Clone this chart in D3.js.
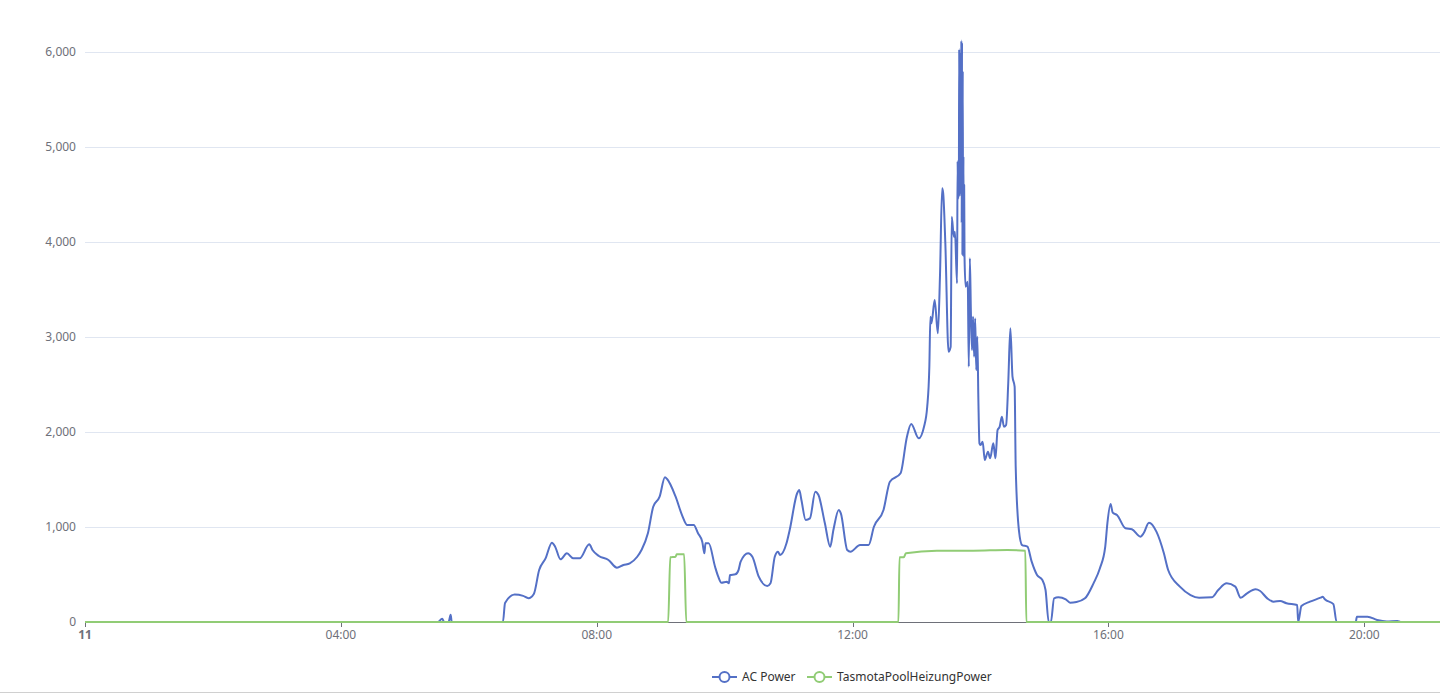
<!DOCTYPE html>
<html>
<head>
<meta charset="utf-8">
<script src="https://cdn.jsdelivr.net/npm/d3@7"></script>
<style>
  html, body { margin: 0; padding: 0; background: #fff; }
  svg { display: block; font-family: "Noto Sans", "Open Sans", sans-serif; }
</style>
</head>
<body>
<svg id="chart" width="1440" height="697"></svg>
<script>
// ---- data ----
const day = "2024-06-11";
const seriesNames = ["AC Power", "TasmotaPoolHeizungPower"];
const seriesColors = ["#5470c6", "#91cc75"];

const acTimes = [
  "00:00","05:31","05:35","05:37","05:41","05:43","05:44","06:32","06:34","06:43","06:51","06:56",
  "07:01","07:06","07:12","07:18","07:21","07:26","07:32","07:38","07:44","07:53","07:56","08:02",
  "08:11","08:19","08:25","08:31","08:38","08:42","08:48","08:53","08:59","09:04","09:06","09:14",
  "09:20","09:25","09:31","09:35","09:39","09:41","09:42","09:45","09:51","09:54","09:57","10:02",
  "10:04","10:05","10:10","10:13","10:15","10:22","10:26","10:32","10:40","10:43","10:47","10:50",
  "10:52","10:58","11:01","11:08","11:10","11:12","11:16","11:20","11:25","11:28","11:34","11:39",
  "11:42","11:47","11:49","11:55","11:58","12:07","12:15","12:20","12:29","12:35","12:45","12:51",
  "12:55","13:02","13:07","13:10","13:12","13:13","13:14","13:17","13:20","13:22","13:24","13:25",
  "13:27","13:30","13:32","13:33","13:35","13:36","13:38",
  "13:38:30","13:39:00","13:39:20","13:39:40","13:40:00","13:40:20","13:40:40","13:41:00","13:41:20",
  "13:41:40","13:42:00","13:42:20","13:42:40","13:43:00","13:43:20","13:43:40","13:44:00","13:44:20",
  "13:44:40","13:45:00",
  "13:46","13:48","13:49","13:50","13:51","13:52","13:53","13:54","13:55","13:56",
  "13:57","13:58","13:59","14:00","14:02","14:04","14:07","14:09","14:12","14:14","14:16","14:18",
  "14:20","14:22","14:24","14:26","14:28","14:30","14:32","14:33","14:36","14:39","14:44","14:48",
  "14:53","14:58","15:01","15:04","15:06","15:09","15:13","15:20","15:24","15:30","15:38","15:46",
  "15:52","15:57","15:59","16:02","16:04","16:08","16:16","16:22","16:30","16:33","16:38","16:45",
  "16:52","16:56","17:07","17:17","17:25","17:37","17:43","17:51","17:59","18:04","18:10","18:18",
  "18:22","18:29","18:35","18:41","18:47","18:57","18:58","19:01","19:09","19:19","19:21","19:23",
  "19:31","19:34","19:52","19:53","20:03","20:12","20:21","20:31","20:34","21:11"
];
const acValues = [
  0,0,35,0,0,77,0,0,200,290,275,250,
  295,547,670,835,793,660,723,670,670,818,758,695,
  653,572,600,618,687,758,934,1213,1319,1523,1505,1319,
  1126,1021,1021,934,845,723,828,828,582,477,414,424,
  407,495,502,547,635,723,687,477,379,407,687,740,
  705,828,968,1355,1389,1284,1074,1091,1372,1337,1039,793,
  968,1179,1144,758,740,810,810,1003,1179,1477,1565,1951,
  2084,1933,2056,2266,2687,3213,3144,3389,3039,3652,4565,4512,
  3986,2845,2898,4266,4056,4109,3565,
  4850,4450,4800,4500,6030,4480,6000,4600,5950,
  4500,6120,4200,6100,3860,5800,3850,4900,3860,
  4600,3850,
  3530,3582,2687,3828,3249,2863,3213,2793,3196,2652,
  3003,2337,1880,1863,1898,1705,1793,1723,1881,1723,2021,2056,
  2161,2056,2074,2513,3091,2582,2477,1635,968,810,793,635,
  495,442,337,0,0,249,260,239,203,210,249,407,
  565,793,1039,1242,1151,1126,986,976,898,934,1045,951,
  723,547,372,284,256,260,337,407,372,256,302,344,
  329,249,214,221,197,179,0,168,214,256,266,239,
  189,0,0,56,56,21,5,10,0,0
];

const poolTimes = ["00:00","09:07","09:09","09:14","09:15","09:22","09:24","12:43","12:44","12:48","12:50","13:19","13:53","14:25","14:42","14:43","21:11"];
const poolValues = [0,0,681,687,712,712,0,0,681,681,723,750,750,758,750,0,0];

const yTicks = [0, 1000, 2000, 3000, 4000, 5000, 6000];
const xTickTimes = ["00:00","04:00","08:00","12:00","16:00","20:00"];
const xTickLabels = ["11","04:00","08:00","12:00","16:00","20:00"];
const xDomainEnd = "21:11";

// ---- layout ----
const svg = d3.select("#chart");
const W = 1440, H = 697;
const margin = { left: 85, right: 0, top: 52, bottom: 75 };
const plotBottom = 622;
const parseHM = d3.timeParse("%Y-%m-%d %H:%M");
const parseHMS = d3.timeParse("%Y-%m-%d %H:%M:%S");
const toDate = t => (t.length > 5 ? parseHMS : parseHM)(day + " " + t);

const x = d3.scaleTime()
  .domain([toDate("00:00"), toDate(xDomainEnd)])
  .range([margin.left, W - margin.right]);
const y = d3.scaleLinear().domain([0, 6000]).range([plotBottom, margin.top]);

// grid
svg.append("g")
  .selectAll("line")
  .data(yTicks.filter(v => v > 0))
  .join("line")
  .attr("x1", margin.left).attr("x2", W - margin.right)
  .attr("y1", d => y(d) + 0.5).attr("y2", d => y(d) + 0.5)
  .attr("stroke", "#E0E6F1").attr("stroke-width", 1);

// y labels
const fmt = d3.format(",");
svg.append("g")
  .selectAll("text")
  .data(yTicks)
  .join("text")
  .attr("x", 76).attr("y", d => y(d))
  .attr("dy", "0.35em")
  .attr("text-anchor", "end")
  .attr("fill", "#6E7079")
  .attr("font-size", 12)
  .text(d => fmt(d));

// x axis
const xAxisG = svg.append("g");
xAxisG.append("line")
  .attr("x1", margin.left).attr("x2", W - margin.right)
  .attr("y1", plotBottom + 0.5).attr("y2", plotBottom + 0.5)
  .attr("stroke", "#6E7079").attr("stroke-width", 1);
const xTicks = xTickTimes.map((t, i) => ({ d: toDate(t), label: xTickLabels[i], major: i === 0 }));
xAxisG.selectAll("line.tick")
  .data(xTicks)
  .join("line")
  .attr("class", "tick")
  .attr("x1", d => Math.round(x(d.d)) + 0.5).attr("x2", d => Math.round(x(d.d)) + 0.5)
  .attr("y1", plotBottom).attr("y2", plotBottom + 5)
  .attr("stroke", "#6E7079");
xAxisG.selectAll("text")
  .data(xTicks)
  .join("text")
  .attr("x", d => x(d.d)).attr("y", plotBottom + 13)
  .attr("dy", "0.35em")
  .attr("text-anchor", "middle")
  .attr("fill", "#6E7079")
  .attr("font-size", 12)
  .attr("font-weight", d => d.major ? "bold" : "normal")
  .text(d => d.label);

// lines
const line = d3.line()
  .x(d => x(d[0]))
  .y(d => y(d[1]))
  .curve(d3.curveMonotoneX);

const acData = acTimes.map((t, i) => [toDate(t), acValues[i]]);
const poolData = poolTimes.map((t, i) => [toDate(t), poolValues[i]]);

svg.append("path")
  .datum(acData)
  .attr("d", line)
  .attr("fill", "none")
  .attr("stroke", seriesColors[0])
  .attr("stroke-width", 2)
  .attr("stroke-linejoin", "round");

svg.append("path")
  .datum(poolData)
  .attr("d", line)
  .attr("fill", "none")
  .attr("stroke", seriesColors[1])
  .attr("stroke-width", 2)
  .attr("stroke-linejoin", "round");

// legend
const legendY = 677;
const legendItems = [
  { name: seriesNames[0], color: seriesColors[0], x0: 712 },
  { name: seriesNames[1], color: seriesColors[1], x0: 807 }
];
const lg = svg.append("g");
legendItems.forEach(it => {
  lg.append("line")
    .attr("x1", it.x0).attr("x2", it.x0 + 25)
    .attr("y1", legendY).attr("y2", legendY)
    .attr("stroke", it.color).attr("stroke-width", 2);
  lg.append("circle")
    .attr("cx", it.x0 + 12.5).attr("cy", legendY).attr("r", 5)
    .attr("fill", "#fff").attr("stroke", it.color).attr("stroke-width", 2);
  lg.append("text")
    .attr("x", it.x0 + 30).attr("y", legendY)
    .attr("dy", "0.35em")
    .attr("fill", "#333")
    .attr("font-size", 12)
    .text(it.name);
});

// bottom border
svg.append("line")
  .attr("x1", 0).attr("x2", W)
  .attr("y1", 692.5).attr("y2", 692.5)
  .attr("stroke", "#d0d0d0").attr("stroke-width", 1);
</script>
</body>
</html>
